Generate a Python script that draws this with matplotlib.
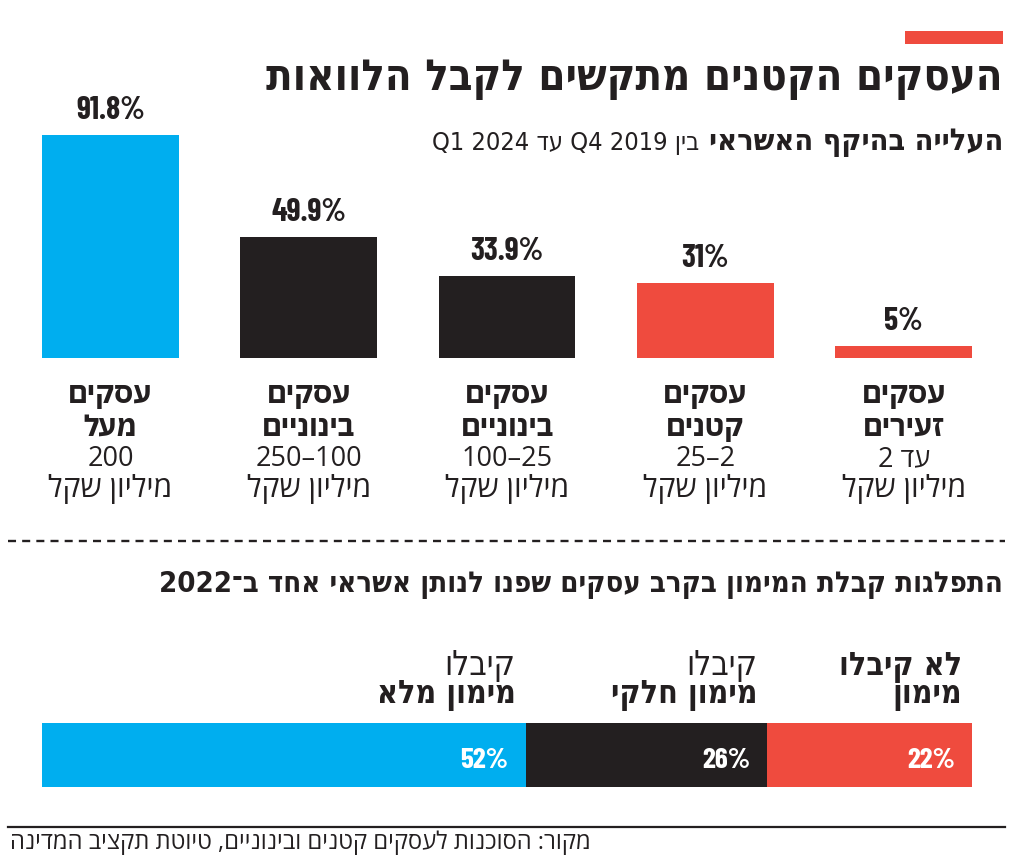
import re
import matplotlib
matplotlib.use("Agg")
import matplotlib.pyplot as plt
from matplotlib.font_manager import FontProperties
from matplotlib.lines import Line2D
from matplotlib.patches import Rectangle

W, H = 1024, 864

# ---- texts / data ----
TITLE = "העסקים הקטנים מתקשים לקבל הלוואות"
SUB_BOLD = "העלייה בהיקף האשראי"
SUB_REG = "בין Q4 2019 עד Q1 2024"

# top chart, in reading order (right -> left)
CAT_WORD = ["עסקים", "עסקים", "עסקים", "עסקים", "עסקים"]
CAT_TYPE = ["זעירים", "קטנים", "בינוניים", "בינוניים", "מעל"]
CAT_RANGE = ["עד 2", "2–25", "25–100", "100–250", "200"]
CAT_UNIT = "מיליון שקל"
GROWTH = [5, 31, 33.9, 49.9, 91.8]
GROWTH_COL = ["red", "red", "black", "black", "blue"]

SECTION2 = "התפלגות קבלת המימון בקרב עסקים שפנו לנותן אשראי אחד ב־2022"
FUND_TOP = ["לא קיבלו", "קיבלו", "קיבלו"]
FUND_TOP_BOLD = [True, False, False]
FUND_BOT = ["מימון", "מימון חלקי", "מימון מלא"]
FUND_SHARE = [22, 26, 52]
FUND_COL = ["red", "black", "blue"]

SOURCE = "מקור: הסוכנות לעסקים קטנים ובינוניים, טיוטת תקציב המדינה"

COLORS = {"blue": "#00AEEF", "black": "#231F20", "red": "#EF4B3E"}
INK = "#231F20"

# matplotlib has no bidi -> build visual order by hand
LTR = re.compile(r"[A-Za-z0-9.%]+(?: +[A-Za-z0-9.%]+)*")


def rtl(s):
    parts, pos = [], 0
    for m in LTR.finditer(s):
        if m.start() > pos:
            parts.append(s[pos:m.start()][::-1])
        parts.append(m.group())
        pos = m.end()
    if pos < len(s):
        parts.append(s[pos:][::-1])
    return "".join(reversed(parts))


fig = plt.figure(figsize=(W / 100, H / 100), dpi=100)
fig.patch.set_facecolor("white")
renderer = fig.canvas.get_renderer()

F_HEAD = FontProperties(family="DejaVu Sans", weight="bold", stretch="condensed")
F_HEAD_REG = FontProperties(family="DejaVu Sans", weight="normal", stretch="condensed")
F_NUM = FontProperties(family=["Barlow Condensed", "Oswald", "DejaVu Sans"],
                       weight="bold", stretch="condensed")
F_LBL_B = FontProperties(family="IBM Plex Sans Hebrew", weight="bold")
F_LBL = FontProperties(family="Open Sans")


def measure(s, fp):
    p = fp.copy()
    p.set_size(100)
    return renderer.get_text_width_height_descent(s, p, ismath=False)


def fit(s, fp, width_px):
    # font size giving the wanted pixel width
    w, h, d = measure(s, fp)
    return 100 * width_px / w


def fit_wh(s, fp, width_px, height_px):
    # compromise between wanted width and wanted ink height (above baseline)
    w, h, d = measure(s, fp)
    return 0.5 * (100 * width_px / w + 100 * height_px / (h - d))


def sized(fp, size):
    p = fp.copy()
    p.set_size(size)
    return p


def put(x, y, s, fp, **kw):
    kw.setdefault("color", INK)
    kw.setdefault("va", "baseline")
    return fig.text(x / W, 1 - y / H, s, fontproperties=fp, **kw)


# ---- header ----
fig.add_artist(Rectangle((905 / W, 1 - 44 / H), 98 / W, 13 / H,
                         transform=fig.transFigure, color=COLORS["red"], lw=0))
t = rtl(TITLE)
put(1003, 90, t, sized(F_HEAD, fit(t, F_HEAD, 738)), ha="right")

sb = rtl(SUB_BOLD)
sb_fp = sized(F_HEAD, fit(sb, F_HEAD, 294))
txt = put(1003, 150, sb, sb_fp, ha="right")
wb = txt.get_window_extent(renderer).width
sr = rtl(SUB_REG)
put(1003 - wb - 9, 150, sr, sized(F_HEAD_REG, fit(sr, F_HEAD_REG, 268)), ha="right")

# ---- top bar chart ----
ax = fig.add_axes([42 / W, 1 - 358 / H, 930 / W, 243 / H])
xs = range(len(GROWTH))
ax.bar(xs, GROWTH, width=0.69, color=[COLORS[c] for c in GROWTH_COL])
ax.set_xlim(4.345, -0.345)
ax.set_ylim(0, 100)
ax.axis("off")

num_fp = sized(F_NUM, fit_wh("91.8%", F_NUM, 72, 22))
b_fp = sized(F_LBL_B, fit("עסקים", F_LBL_B, 84))
rng_fp = sized(F_LBL, fit(rtl("100–250"), F_LBL, 106))
unit_fp = sized(F_LBL, fit(rtl(CAT_UNIT), F_LBL, 124))
for i, v in enumerate(GROWTH):
    ax.annotate(f"{v:g}%", (i, v), xytext=(0, 16), textcoords="offset pixels",
                ha="center", va="baseline", fontproperties=num_fp, color=INK)
    lines = [(CAT_WORD[i], b_fp, -45), (CAT_TYPE[i], b_fp, -78),
             (CAT_RANGE[i], rng_fp, -108), (CAT_UNIT, unit_fp, -139)]
    for s, fp, dy in lines:
        ax.annotate(rtl(s), (i, 0), xytext=(0, dy), textcoords="offset pixels",
                    ha="center", va="baseline", fontproperties=fp, color=INK)

# dashed separator
fig.add_artist(Line2D([8 / W, 1005 / W], [1 - 541 / H] * 2, color=INK,
                      lw=1.7, dashes=(3.4, 2.6)))

# ---- second section ----
s2 = rtl(SECTION2)
put(1003, 592, s2, sized(F_HEAD, fit(s2, F_HEAD, 845)), ha="right")

ax2 = fig.add_axes([42 / W, 1 - 787 / H, 930 / W, 64 / H])
left = 0
starts = []
for v, c in zip(FUND_SHARE, FUND_COL):
    ax2.barh(0, v, left=left, height=1, color=COLORS[c], lw=0)
    starts.append(left)
    left += v
ax2.set_xlim(100, 0)
ax2.set_ylim(-0.5, 0.5)
ax2.axis("off")

lb_fp = sized(F_HEAD, fit(rtl("מימון חלקי"), F_HEAD, 147))
lr_fp = sized(F_HEAD_REG, fit(rtl("קיבלו"), F_HEAD_REG, 71))
pc_fp = sized(F_NUM, fit_wh("22%", F_NUM, 48, 21))
for i, v in enumerate(FUND_SHARE):
    x0 = starts[i]
    ax2.annotate(rtl(FUND_TOP[i]), (x0, 0.5), xytext=(-10, 48), textcoords="offset pixels",
                 ha="right", va="baseline", color=INK,
                 fontproperties=lb_fp if FUND_TOP_BOLD[i] else lr_fp)
    ax2.annotate(rtl(FUND_BOT[i]), (x0, 0.5), xytext=(-10, 20), textcoords="offset pixels",
                 ha="right", va="baseline", color=INK, fontproperties=lb_fp)
    ax2.annotate(f"{v}%", (x0, 0), xytext=(-17, -13), textcoords="offset pixels",
                 ha="right", va="baseline", color="white", fontproperties=pc_fp)

# ---- footer ----
fig.add_artist(Line2D([8 / W, 1005 / W], [1 - 827 / H] * 2, color=INK, lw=1.6))
src = rtl(SOURCE)
put(10, 849, src, sized(F_LBL, fit(src, F_LBL, 580)), ha="left")

fig.savefig("out.png", dpi=100, facecolor="white")
